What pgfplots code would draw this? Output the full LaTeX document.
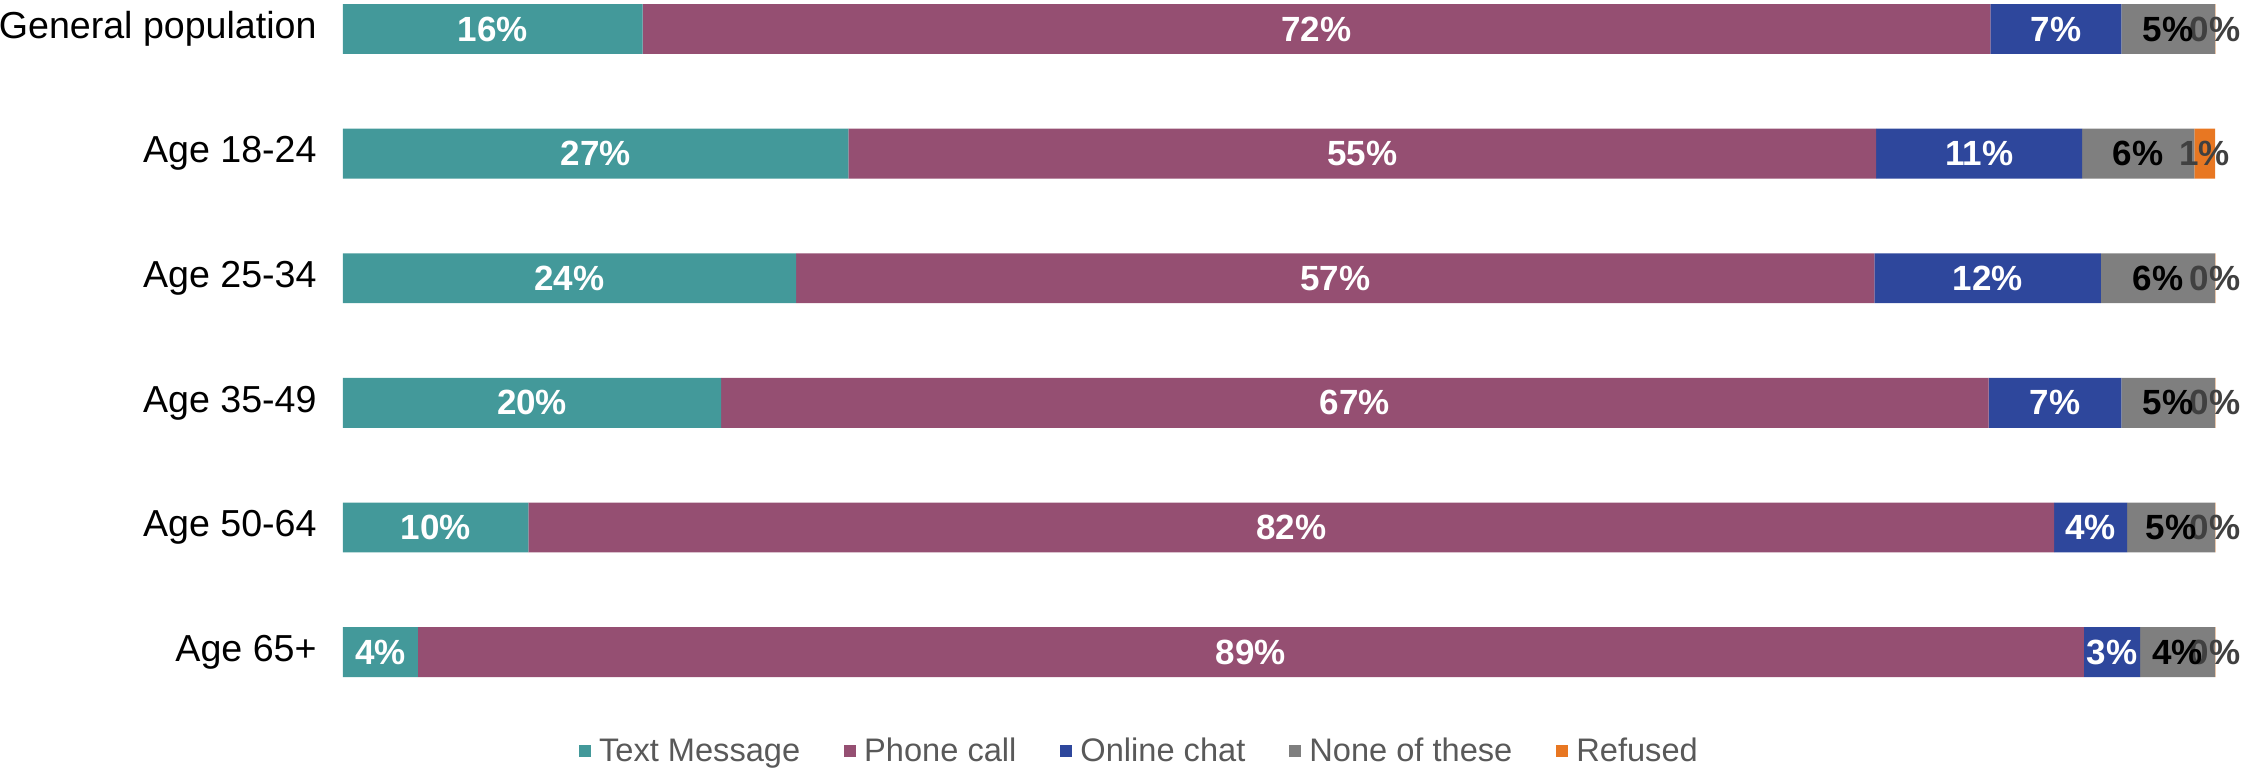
\documentclass[border=0pt]{standalone}
\usepackage{pgfplots}
\pgfplotsset{compat=1.18}
\usepackage{pgfplotstable}
\usepackage{fontspec}
\setmainfont{Liberation Sans}

\definecolor{cText}{HTML}{43999A}
\definecolor{cPhone}{HTML}{954F72}
\definecolor{cChat}{HTML}{2E479C}
\definecolor{cNone}{HTML}{7F7F7F}
\definecolor{cRef}{HTML}{E87722}
\definecolor{legtxt}{HTML}{595959}
\definecolor{darklab}{HTML}{404040}

% y: 0 = General population ... 5 = Age 65+
\pgfplotstableread{
y val  lab
0 16.0 16
1 27.0 27
2 24.2 24
3 20.2 20
4 9.9  10
5 4.0  4
}\tText
\pgfplotstableread{
y val  lab
0 72.0 72
1 54.9 55
2 57.6 57
3 67.7 67
4 81.5 82
5 89.0 89
}\tPhone
\pgfplotstableread{
y val  lab
0 7.0  7
1 11.0 11
2 12.1 12
3 7.1  7
4 3.9  4
5 3.0  3
}\tChat
\pgfplotstableread{
y val  lab
0 5.0 5
1 6.0 6
2 6.1 6
3 5.0 5
4 4.7 5
5 4.0 4
}\tNone
% 0.02 instead of 0, so that the 0% labels are still drawn
\pgfplotstableread{
y val  lab
0 0.02 0
1 1.1  1
2 0.02 0
3 0.02 0
4 0.02 0
5 0.02 0
}\tRef

\begin{document}
\begin{tikzpicture}
\begin{axis}[
  scale only axis, width=936pt, height=357.2pt,
  xbar stacked, bar width=0.4,
  y dir=reverse,
  xmin=0, xmax=100, ymin=-0.233, ymax=5.5,
  clip=false,
  xtick=\empty,
  ytick={0,...,5},
  yticklabels={General population,Age 18-24,Age 25-34,Age 35-49,Age 50-64,Age 65+},
  yticklabel style={font=\fontsize{18.8}{22}\selectfont, text=black, inner sep=0pt, xshift=-13pt},
  axis line style={draw=none},
  major tick length=0pt,
  point meta=explicit symbolic,
  % with anchor=center the labels sit in the middle of each segment
  nodes near coords={\pgfplotspointmeta\%},
  every node near coord/.append style={anchor=center, inner sep=0pt,
    font=\bfseries\fontsize{17.5}{20}\selectfont},
  legend columns=5,
  legend style={draw=none, fill=none, at={(axis description cs:0.426,-0.0518)}, anchor=center,
    font=\fontsize{16.3}{19}\selectfont, text=legtxt,
    /tikz/every even column/.append style={column sep=20pt},
    /tikz/every odd column/.append style={column sep=2pt}},
  legend image code/.code={\fill[#1] (0pt,-3pt) rectangle (6pt,3pt);},
]
\addplot[fill=cText, draw=none, every node near coord/.append style={text=white}]
  table[x=val, y=y, meta=lab]{\tText};
\addlegendentry{Text Message}
\addplot[fill=cPhone, draw=none, every node near coord/.append style={text=white}]
  table[x=val, y=y, meta=lab]{\tPhone};
\addlegendentry{Phone call}
\addplot[fill=cChat, draw=none, every node near coord/.append style={text=white}]
  table[x=val, y=y, meta=lab]{\tChat};
\addlegendentry{Online chat}
\addplot[fill=cNone, draw=none, every node near coord/.append style={text=black}]
  table[x=val, y=y, meta=lab]{\tNone};
\addlegendentry{None of these}
\addplot[fill=cRef, draw=none, every node near coord/.append style={text=darklab}]
  table[x=val, y=y, meta=lab]{\tRef};
\addlegendentry{Refused}
\end{axis}
\pgfresetboundingbox
\path (-171.5pt,-27.5pt) rectangle (949.5pt,357.2pt);
\end{tikzpicture}
\end{document}
